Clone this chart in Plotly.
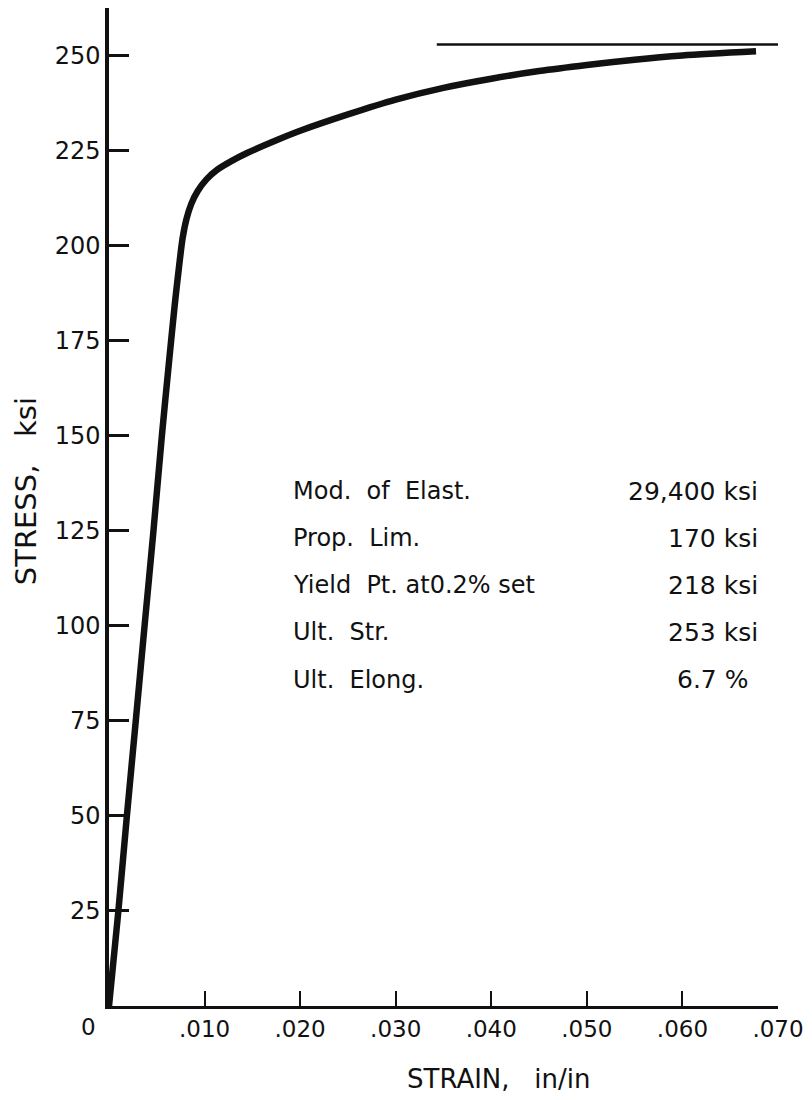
import plotly.graph_objects as go

# Stress-strain curve read from the test record
strain = [0.0, 0.00098, 0.00187, 0.0028, 0.00372, 0.00465, 0.00553, 0.0063,
          0.0069, 0.00735, 0.0077, 0.0081, 0.0086, 0.0093, 0.0102, 0.0113,
          0.0128, 0.0145, 0.0177, 0.020, 0.025, 0.030, 0.035, 0.040, 0.045,
          0.050, 0.055, 0.060, 0.0677]
stress = [0, 25, 50, 75, 100, 125, 150, 170,
          185, 195, 202, 207, 211, 214.5, 217.5, 220,
          222.3, 224.5, 228.0, 230.3, 234.6, 238.5, 241.6, 244.0, 246.0,
          247.6, 249.0, 250.1, 251.2]

# Ultimate strength reference line
ult_strain = [0.0343, 0.0705]
ult_stress = [253, 253]

# Axis ticks
x_ticks = [0.010, 0.020, 0.030, 0.040, 0.050, 0.060, 0.070]
x_tick_text = [".010", ".020", ".030", ".040", ".050", ".060", ".070"]
y_ticks = [25, 50, 75, 100, 125, 150, 175, 200, 225, 250]
y_tick_text = [str(v) for v in y_ticks]

# Material property table
prop_names = ["Mod.  of  Elast.", "Prop.  Lim.", "Yield  Pt. at0.2% set",
              "Ult.  Str.", "Ult.  Elong."]
prop_values = ["29,400 ksi", "170 ksi", "218 ksi", "253 ksi", "6.7 %"]
prop_rows = [135.5, 123.1, 110.7, 98.3, 85.9]

FONT = "DejaVu Sans"
INK = "#111111"

L, R, T, B = 109, 32, 8, 94
W, H = 812, 1100

fig = go.Figure()
fig.add_trace(go.Scatter(x=strain, y=stress, mode="lines",
                         line=dict(color=INK, width=6.5, shape="spline", smoothing=0.8),
                         hoverinfo="skip", showlegend=False))
fig.add_trace(go.Scatter(x=ult_strain, y=ult_stress, mode="lines",
                         line=dict(color=INK, width=2.5),
                         hoverinfo="skip", showlegend=False))

for name, val, yv in zip(prop_names, prop_values, prop_rows):
    fig.add_annotation(x=0.0190, y=yv, text=name, showarrow=False,
                       xanchor="left", yanchor="middle",
                       font=dict(family=FONT, size=24, color=INK))
    fig.add_annotation(x=0.0681 if "%" not in val else 0.0671, y=yv, text=val,
                       showarrow=False, xanchor="right", yanchor="middle",
                       font=dict(family=FONT, size=25, color=INK))


def px_to_paper(px, py):
    return (px - L) / (W - L - R), (H - B - py) / (H - T - B)


# Origin label
ox, oy = px_to_paper(88, 1027)
fig.add_annotation(x=ox, y=oy, xref="paper", yref="paper", text="0",
                   showarrow=False, xanchor="center", yanchor="middle",
                   font=dict(family=FONT, size=23, color=INK))

# Axis titles
tx, ty = px_to_paper(500, 1079)
fig.add_annotation(x=tx, y=ty, xref="paper", yref="paper", text="STRAIN,   in/in",
                   showarrow=False, xanchor="center", yanchor="middle",
                   font=dict(family=FONT, size=26, color=INK))
sx, sy = px_to_paper(26, 491)
fig.add_annotation(x=sx, y=sy, xref="paper", yref="paper", text="STRESS,   ksi",
                   showarrow=False, textangle=-90, xanchor="center", yanchor="middle",
                   font=dict(family=FONT, size=29, color=INK))

fig.update_layout(
    width=W, height=H,
    margin=dict(l=L, r=R, t=T, b=B),
    paper_bgcolor="white", plot_bgcolor="white",
    font=dict(family=FONT, color=INK),
    xaxis=dict(range=[0, 0.070], tickvals=x_ticks, ticktext=x_tick_text,
               ticks="inside", ticklen=15, tickwidth=2, tickcolor=INK,
               showline=True, linewidth=3, linecolor=INK, showgrid=False,
               zeroline=False, tickfont=dict(family=FONT, size=23, color=INK)),
    yaxis=dict(range=[0, 262.6], tickvals=y_ticks, ticktext=y_tick_text,
               ticks="inside", ticklen=20, tickwidth=2.5, tickcolor=INK,
               showline=True, linewidth=3.5, linecolor=INK, showgrid=False,
               zeroline=False, tickfont=dict(family=FONT, size=24, color=INK)),
)

fig.write_html("out.html")
